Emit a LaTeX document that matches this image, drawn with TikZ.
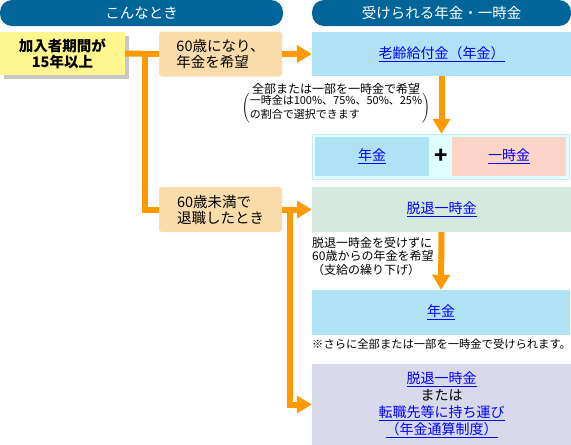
\documentclass[tikz,border=0pt]{standalone}
\usepackage{fontspec}
\setmainfont{Noto Sans CJK JP}
\usetikzlibrary{arrows.meta,shadows}
\definecolor{headblue}{RGB}{0,102,153}
\definecolor{condyellow}{RGB}{255,246,143}
\definecolor{condpeach}{RGB}{250,220,170}
\definecolor{flow}{RGB}{255,153,0}
\definecolor{payblue}{RGB}{176,226,246}
\definecolor{paycyan}{RGB}{224,255,255}
\definecolor{payedge}{RGB}{200,236,250}
\definecolor{paypink}{RGB}{252,212,200}
\definecolor{paygreen}{RGB}{212,234,223}
\definecolor{paylav}{RGB}{216,218,236}
\definecolor{lnkblue}{RGB}{0,0,255}
\newcommand{\lnk}[1]{\textcolor{lnkblue}{\underline{#1}}}
\begin{document}
\begin{tikzpicture}[x=1pt,y=-1pt,
   head/.style={fill=headblue,text=white,rounded corners=12pt,minimum height=26pt,inner sep=0pt,font=\fontsize{14.5}{16}\selectfont},
   cond/.style={fill=condpeach,rounded corners=3pt,minimum width=123pt,minimum height=45pt,inner sep=0pt,align=left,font=\fontsize{14.5}{16}\selectfont},
   pay/.style={minimum width=259pt,minimum height=45pt,inner sep=0pt,align=center,font=\fontsize{14}{17}\selectfont},
   note/.style={inner sep=0pt,font=\fontsize{12}{14}\selectfont},
   flowline/.style={draw=flow,line width=6pt},
   flowarrow/.style={flowline,-{Triangle[width=17pt,length=15pt]}}]
   \useasboundingbox (0,0) rectangle (571,445);
   \node[head,minimum width=283pt] (headcase) at (141.5,13) {こんなとき};
   \node[head,minimum width=259pt] (headpay) at (441.5,13) {受けられる年金・一時金};
   \node[fill=condyellow,minimum width=125pt,minimum height=43pt,inner sep=0pt,align=center,
      font=\bfseries\fontsize{14.5}{16}\selectfont,
      drop shadow={shadow xshift=4pt,shadow yshift=-4pt,fill=black!22,opacity=1}] (member) at (62.5,53.5) {加入者期間が\\15年以上};
   \node[cond] (wantpen) at (220.5,54) {60歳になり、\\年金を希望};
   \node[cond] (retire) at (220.5,209.5) {60歳未満で\\退職したとき};
   \node[pay,fill=payblue,minimum height=44pt] (oldage) at (441.5,54) {\lnk{老齢給付金（年金）}};
   \node[pay,fill=paycyan,draw=payedge,minimum width=257pt] (combo) at (440.5,156.5) {};
   \node[pay,fill=payblue,minimum width=114pt,minimum height=39pt] (combopen) at (372,156.5) {\lnk{年金}};
   \node[pay,fill=paypink,minimum width=114pt,minimum height=39pt] (combolump) at (509,156.5) {\lnk{一時金}};
   \node[inner sep=0pt,font=\bfseries\fontsize{22}{22}\selectfont] (plus) at (441.5,156) {+};
   \node[pay,fill=paygreen] (lump) at (441.5,209.5) {\lnk{脱退一時金}};
   \node[pay,fill=payblue,minimum width=258pt] (pension) at (441,312.5) {\lnk{年金}};
   \node[pay,fill=paylav,minimum height=81pt] (trans) at (441.5,404.5) {\lnk{脱退一時金}\\または\\\lnk{転職先等に持ち運び}\\\lnk{（年金通算制度）}};
   \node[note,align=center,anchor=north] (lumpnote) at (336,83) {全部または一部を一時金で希望\\[-2pt]$\left(\begin{tabular}{@{}l@{}}\fontsize{11}{13}\selectfont 一時金は100\%、75\%、50\%、25\%\\\fontsize{11}{13}\selectfont の割合で選択できます\end{tabular}\right)$};
   \node[note,align=left,anchor=north west,font=\fontsize{12}{13.5}\selectfont] (defernote) at (312,237) {脱退一時金を受けずに\\60歳からの年金を希望\\（支給の繰り下げ）};
   \node[note,anchor=west,font=\fontsize{11.3}{12}\selectfont] (morenote) at (312,344) {※さらに全部または一部を一時金で受けられます。};
   \coordinate (split) at (144.5,54.5);
   \coordinate (turn) at (290,209.5);
   \draw[flowline] (member.east) -- (wantpen.west);
   \draw[flowline] (split) |- (retire.west);
   \draw[flowarrow] (wantpen.east) -- (oldage.west);
   \draw[flowarrow] (oldage.south) -- (oldage.south |- combo.north);
   \draw[flowarrow] (retire.east) -- (lump.west);
   \draw[flowarrow] (turn) |- (trans.west);
   \draw[flowarrow] (lump.south) -- (pension.north);
\end{tikzpicture}
\end{document}
